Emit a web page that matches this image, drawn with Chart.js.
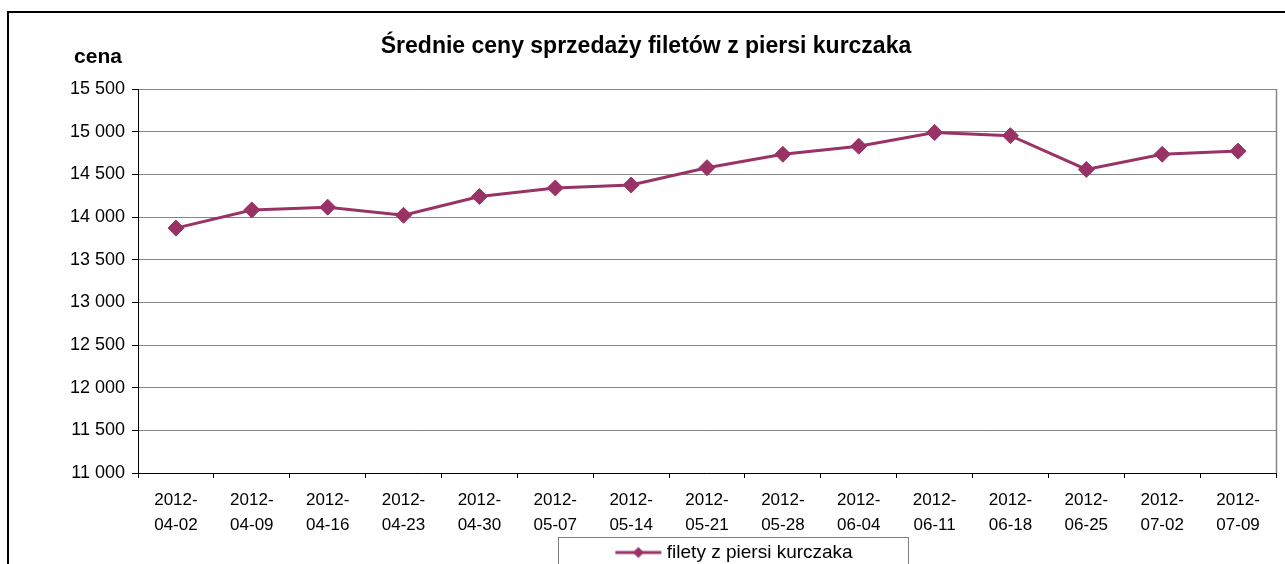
<!DOCTYPE html>
<html>
<head>
<meta charset="utf-8">
<script src="https://cdn.jsdelivr.net/npm/chart.js@4/dist/chart.umd.min.js"></script>
<style>
  html, body { margin: 0; padding: 0; overflow: hidden; background: #fff; }
  canvas { display: block; }
</style>
</head>
<body>
<canvas id="myChart" width="1285" height="572"></canvas>
<script>
var weeks = ['2012-04-02', '2012-04-09', '2012-04-16', '2012-04-23', '2012-04-30',
             '2012-05-07', '2012-05-14', '2012-05-21', '2012-05-28', '2012-06-04',
             '2012-06-11', '2012-06-18', '2012-06-25', '2012-07-02', '2012-07-09'];
var prices = [13870, 14083, 14115, 14020, 14240, 14340, 14375, 14578,
              14735, 14830, 14990, 14953, 14557, 14735, 14772];
var seriesName = 'filety z piersi kurczaka';
var chartTitle = 'Średnie ceny sprzedaży filetów z piersi kurczaka';
var yTitle = 'cena';

var plum = '#993366';
var font = "'Liberation Sans', Arial, sans-serif";

// legend marker: short line with a diamond, like Excel
var marker = document.createElement('canvas');
marker.width = 48;
marker.height = 14;
var mctx = marker.getContext('2d');
mctx.strokeStyle = plum;
mctx.lineWidth = 3;
mctx.beginPath();
mctx.moveTo(1, 7);
mctx.lineTo(47, 7);
mctx.stroke();
mctx.fillStyle = plum;
mctx.beginPath();
mctx.moveTo(24, 1.5);
mctx.lineTo(29.5, 7);
mctx.lineTo(24, 12.5);
mctx.lineTo(18.5, 7);
mctx.closePath();
mctx.fill();

function spaced(v) {
  return String(v).replace(/\B(?=(\d{3})+(?!\d))/g, ' ');
}

var frame = {
  id: 'frame',
  afterLayout: function(chart) {
    // legend sits right of centre in the original
    chart.legend.left += 90;
    chart.legend.right += 90;
  },
  afterDraw: function(chart) {
    var c = chart.ctx, a = chart.chartArea;
    c.save();
    // outer chart border
    c.strokeStyle = '#000';
    c.lineWidth = 2;
    c.beginPath();
    c.moveTo(8, 600);
    c.lineTo(8, 12);
    c.lineTo(1300, 12);
    c.stroke();
    // plot area border (right side)
    c.strokeStyle = '#868686';
    c.lineWidth = 1.5;
    c.beginPath();
    c.moveTo(a.right + 0.5, a.top);
    c.lineTo(a.right + 0.5, a.bottom);
    c.stroke();
    // legend box
    var hb = chart.legend.legendHitBoxes[0];
    if (hb) {
      var cx = hb.left + hb.width / 2 - 3;
      c.strokeStyle = '#7f7f7f';
      c.lineWidth = 1;
      c.strokeRect(Math.round(cx - 175) + 0.5, chart.legend.top + 4.5, 350, 80);
    }
    // axis caption
    c.fillStyle = '#000';
    c.font = 'bold 21px ' + font;
    c.textAlign = 'center';
    c.textBaseline = 'middle';
    c.fillText(yTitle, 98, 57);
    c.restore();
  }
};

var ctx = document.getElementById('myChart').getContext('2d');
var myChart = new Chart(ctx, {
  type: 'line',
  data: {
    labels: weeks,
    datasets: [{
      label: seriesName,
      data: prices,
      borderColor: plum,
      backgroundColor: plum,
      borderWidth: 3,
      tension: 0,
      pointStyle: 'rectRot',
      pointRadius: 8,
      pointHoverRadius: 8,
      pointBackgroundColor: plum,
      pointBorderColor: plum,
      pointBorderWidth: 1
    }]
  },
  options: {
    responsive: false,
    animation: false,
    devicePixelRatio: 1,
    layout: {
      padding: { left: 14, right: 7, top: 0, bottom: 0 }
    },
    plugins: {
      title: {
        display: true,
        text: chartTitle,
        color: '#000',
        font: { family: font, size: 23, weight: 'bold' },
        padding: { top: 33, bottom: 28.4 }
      },
      legend: {
        display: true,
        position: 'bottom',
        labels: {
          color: '#000',
          font: { family: font, size: 19 },
          usePointStyle: true,
          pointStyle: marker,
          pointStyleWidth: 38,
          padding: 10
        }
      },
      tooltip: { enabled: false }
    },
    scales: {
      x: {
        offset: true,
        afterFit: function(scale) { scale.height = 60; },
        grid: {
          offset: true,
          drawOnChartArea: false,
          color: '#000',
          tickLength: 5
        },
        border: { color: '#000', width: 1 },
        ticks: {
          color: '#000',
          font: { family: font, size: 17, lineHeight: 1.45 },
          padding: 10,
          maxRotation: 0,
          autoSkip: false,
          callback: function(v) {
            var s = this.getLabelForValue(v);
            return [s.slice(0, 5), s.slice(5)];
          }
        }
      },
      y: {
        min: 11000,
        max: 15500,
        afterFit: function(scale) { scale.width = 124; },
        grid: {
          color: '#868686',
          tickColor: '#000',
          tickLength: 6
        },
        border: { color: '#000', width: 1 },
        ticks: {
          stepSize: 500,
          color: '#000',
          font: { family: font, size: 18 },
          padding: 7,
          callback: function(v) { return spaced(v); }
        }
      }
    }
  },
  plugins: [frame]
});
</script>
</body>
</html>
